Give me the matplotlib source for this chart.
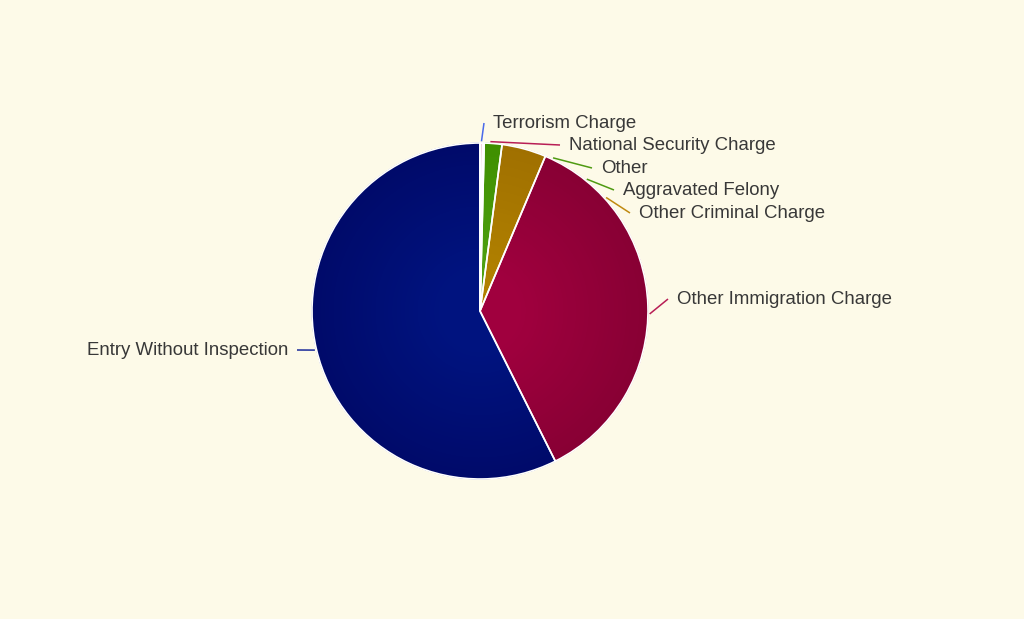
import numpy as np
import matplotlib.pyplot as plt
from matplotlib.colors import to_rgb

# charge categories, clockwise from 12 o'clock
labels = ['Terrorism Charge', 'National Security Charge', 'Other',
          'Aggravated Felony', 'Other Criminal Charge',
          'Other Immigration Charge', 'Entry Without Inspection']
shares = [0.05, 0.2, 0.15, 1.7, 4.26, 36.24, 57.4]

# edge colour / centre colour of the radial gradient
edge_cols = ['#3a5ad8', '#b81e55', '#4f9a12', '#3f8f00', '#a07000', '#880034', '#000a6a']
centre_cols = ['#4a6aea', '#c82a62', '#5aa820', '#4ea010', '#b08000', '#a0003e', '#00137f']
line_cols = ['#4a6aea', '#b81e55', '#4f9a12', '#4f9a12', '#c08a10', '#b81e55', '#1a2a9a']

bg = '#fdfae8'
W, H = 1024, 619
cx, cy, R = 480, 311, 168


def px(x, y):
    # pixel position -> data units (pie radius = 1)
    return (x - cx) / R, (cy - y) / R


fig = plt.figure(figsize=(W / 100, H / 100), dpi=100)
fig.patch.set_facecolor(bg)
ax = fig.add_axes([0, 0, 1, 1])
ax.set_facecolor(bg)
ax.axis('off')

# radial gradient: stacked pies shrinking toward the centre
n = 40
for k in range(n):
    t = min(1.0, k / (n * 0.75))
    cols = [tuple((1 - t) * np.array(to_rgb(e)) + t * np.array(to_rgb(c)))
            for e, c in zip(edge_cols, centre_cols)]
    ax.pie(shares, radius=1 - k / n, startangle=90, counterclock=False,
           colors=cols, wedgeprops=dict(linewidth=0.6))
    for w, c in zip(ax.patches[-len(shares):], cols):
        w.set_edgecolor(c)

# white borders on top
ax.pie(shares, radius=1, startangle=90, counterclock=False,
       wedgeprops=dict(fill=False, edgecolor='white', linewidth=1.2))
ax.set_xlim(-cx / R, (W - cx) / R)
ax.set_ylim((cy - H) / R, cy / R)
ax.set_aspect('auto')

# label layout (pixels): connector angle on the rim, label anchor
conn_angle = [0.5, 3.5, 25.5, 39, 48, 91, None]
label_pos = [(493, 121), (569, 143), (601, 166), (623, 188), (639, 211),
             (677, 297), (288, 348)]

cum = np.cumsum([0] + shares) / sum(shares) * 360
for i, lab in enumerate(labels):
    a = conn_angle[i]
    if a is None:
        a = (cum[i] + cum[i + 1]) / 2
    th = np.radians(a)
    x0, y0 = 1.01 * np.sin(th), 1.01 * np.cos(th)
    lx, ly = label_pos[i]
    right = lx > cx
    ex, ey = px(lx - 9 if right else lx + 9, ly + 2)
    ax.plot([x0, ex], [y0, ey], color=line_cols[i], lw=1.1, solid_capstyle='butt')
    tx, ty = px(lx, ly + 2.5)
    ax.text(tx, ty, lab, ha='left' if right else 'right', va='center',
            fontsize=13.4, color='#383838', family='Liberation Sans')

fig.savefig('out.png', dpi=100, facecolor=bg)
